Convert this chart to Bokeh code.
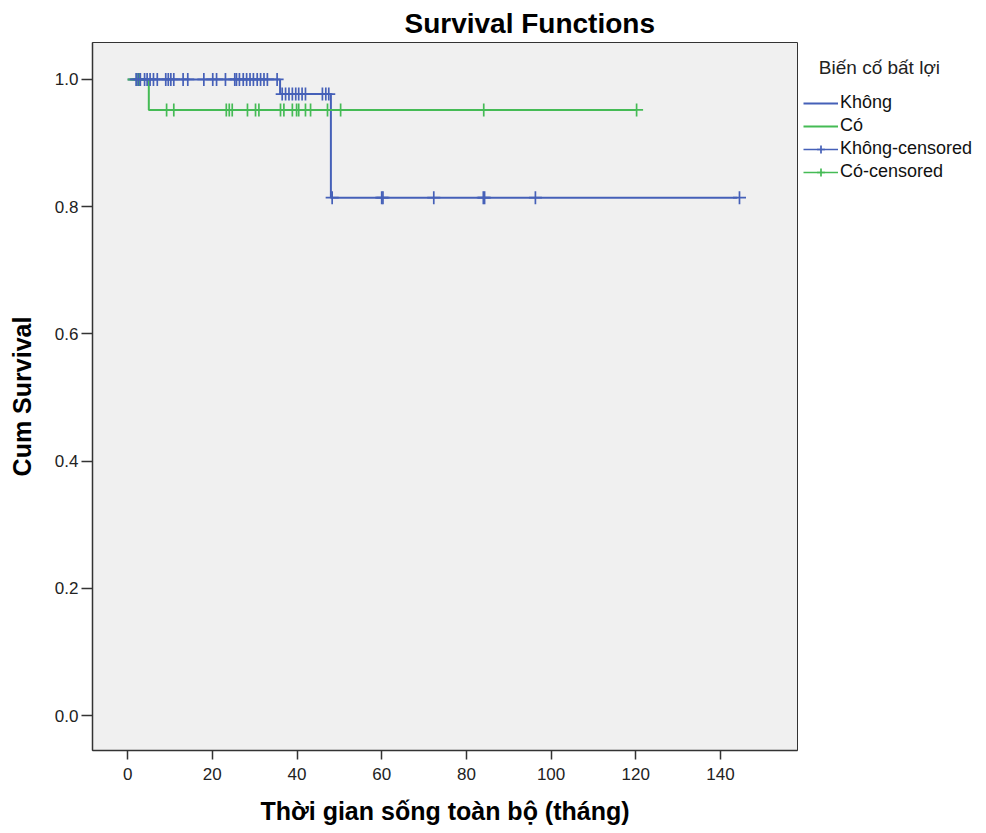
import numpy as np
from bokeh.plotting import figure
from bokeh.models import (Range1d, FixedTicker, Legend, LegendItem, NumeralTickFormatter,
                          ColumnDataSource)
from bokeh.embed import file_html
from bokeh.resources import INLINE

# ---- data ----
groups = ["Không", "Có"]
# Kaplan-Meier step functions (time, survival)
khong_step_t = [0, 36, 48, 144]
khong_step_s = [1.0, 0.977, 0.814, 0.814]
co_step_t = [0, 5, 120]
co_step_s = [1.0, 0.952, 0.952]
# censored times
khong_cens = [2, 2.5, 3, 4.0, 4.6, 5.3, 6.1, 7.0, 9.0, 9.6, 10.2, 10.9, 13.1, 14.2, 18.0, 20.1, 21.0,
              23.1, 25.3, 25.7, 26.4, 27.3, 28.1, 28.9, 29.7, 30.6, 31.4, 32.2, 33.0, 35.3,
              36.5, 37.3, 38.1, 38.9, 39.7, 40.4, 41.2, 42.0, 46.0, 46.8, 47.5,
              48.3, 60.0, 60.3, 72.3, 84.0, 84.3, 96.3, 144.5]
co_cens = [2.2, 2.8, 9.2, 10.9, 23.3, 24.0, 24.7, 28.3, 30.2, 31.0, 36.1, 36.9, 38.9, 39.9, 40.4,
           42.0, 43.2, 47.2, 50.3, 84.1, 120.2]

title_txt = "Survival Functions"
x_label = "Thời gian sống toàn bộ (tháng)"
y_label = "Cum Survival"
legend_title = "Biến cố bất lợi"
x_ticks = [0, 20, 40, 60, 80, 100, 120, 140]
y_ticks = [0.0, 0.2, 0.4, 0.6, 0.8, 1.0]

BLUE = "#4560b8"
GREEN = "#45bb55"
FONT = "Liberation Sans"

FW, FH = 705, 708


def surv_at(ts, st, x):
    ts = np.asarray(ts); st = np.asarray(st)
    idx = np.searchsorted(ts, np.asarray(x), side="right") - 1
    return st[np.clip(idx, 0, len(st) - 1)]


p = figure(frame_width=FW, frame_height=FH, output_backend="svg", toolbar_location=None,
           x_range=Range1d(-8.3, 158.2), y_range=Range1d(-0.055, 1.058),
           min_border_left=92, min_border_right=182, min_border_top=42, min_border_bottom=80)

p.background_fill_color = "#f0f0f0"
p.border_fill_color = "white"
p.outline_line_color = "#333333"
p.outline_line_width = 1
p.xgrid.visible = False
p.ygrid.visible = False

p.title.text = title_txt
p.title.text_font = FONT
p.title.text_font_size = "28px"
p.title.text_font_style = "bold"
p.title.align = "left"
p.title.offset = 312
p.title.standoff = 8
p.title.text_color = "#000000"

for ax in (p.xaxis[0], p.yaxis[0]):
    ax.axis_line_color = "#333333"
    ax.axis_line_width = 1.5
    ax.major_tick_line_color = "#333333"
    ax.major_tick_line_width = 1.5
    ax.major_tick_in = 0
    ax.minor_tick_line_color = None
    ax.major_label_text_color = "#222222"
    ax.axis_label_text_font_style = "bold"
    ax.axis_label_text_color = "#000000"

p.xaxis[0].ticker = FixedTicker(ticks=x_ticks)
p.xaxis[0].major_tick_out = 9
p.xaxis[0].major_label_standoff = 8
p.xaxis[0].major_label_text_font = FONT
p.xaxis[0].major_label_text_font_size = "17px"
p.xaxis[0].axis_label = x_label
p.xaxis[0].axis_label_text_font = FONT
p.xaxis[0].axis_label_text_font_size = "25px"
p.xaxis[0].axis_label_standoff = 14

p.yaxis[0].ticker = FixedTicker(ticks=y_ticks)
p.yaxis[0].formatter = NumeralTickFormatter(format="0.0")
p.yaxis[0].major_tick_out = 11
p.yaxis[0].major_label_standoff = 3
p.yaxis[0].major_label_text_font = FONT
p.yaxis[0].major_label_text_font_size = "17px"
p.yaxis[0].axis_label = y_label
p.yaxis[0].axis_label_text_font = FONT
p.yaxis[0].axis_label_text_font_size = "25px"
p.yaxis[0].axis_label_standoff = 16

# step lines
r_k = p.step(khong_step_t, khong_step_s, mode="after", line_color=BLUE, line_width=2)
r_c = p.step(co_step_t, co_step_s, mode="after", line_color=GREEN, line_width=2)

# censored marks
src_k = ColumnDataSource(dict(x=khong_cens, y=surv_at(khong_step_t, khong_step_s, khong_cens)))
src_c = ColumnDataSource(dict(x=co_cens, y=surv_at(co_step_t, co_step_s, co_cens)))
r_c_cens = p.scatter("x", "y", source=src_c, marker="cross", size=13, line_color=GREEN, line_width=1.7)
r_k_cens = p.scatter("x", "y", source=src_k, marker="cross", size=13, line_color=BLUE, line_width=1.7)

# legend line proxies (single point -> nothing drawn in the plot)
lk = p.line(khong_cens[:1], [1.0], line_color=BLUE, line_width=1.5)
lc = p.line(co_cens[:1], [1.0], line_color=GREEN, line_width=1.5)

legend = Legend(items=[
    LegendItem(label=groups[0], renderers=[r_k]),
    LegendItem(label=groups[1], renderers=[r_c]),
    LegendItem(label=groups[0] + "-censored", renderers=[lk, r_k_cens]),
    LegendItem(label=groups[1] + "-censored", renderers=[lc, r_c_cens]),
], location=(6, 568))
legend.title = "\u00a0\u00a0\u00a0" + legend_title
legend.title_text_font = FONT
legend.title_text_font_size = "19px"
legend.title_text_font_style = "normal"
legend.title_text_color = "#222222"
legend.title_standoff = 13
legend.label_text_font = FONT
legend.label_text_font_size = "18px"
legend.label_text_color = "#111111"
legend.label_standoff = 2
legend.label_height = 20
legend.glyph_width = 35
legend.glyph_height = 20
legend.spacing = 2
legend.padding = 0
legend.margin = 0
legend.border_line_color = None
legend.background_fill_alpha = 0
p.add_layout(legend, "right")

open("out.html", "w").write(file_html(p, INLINE))
